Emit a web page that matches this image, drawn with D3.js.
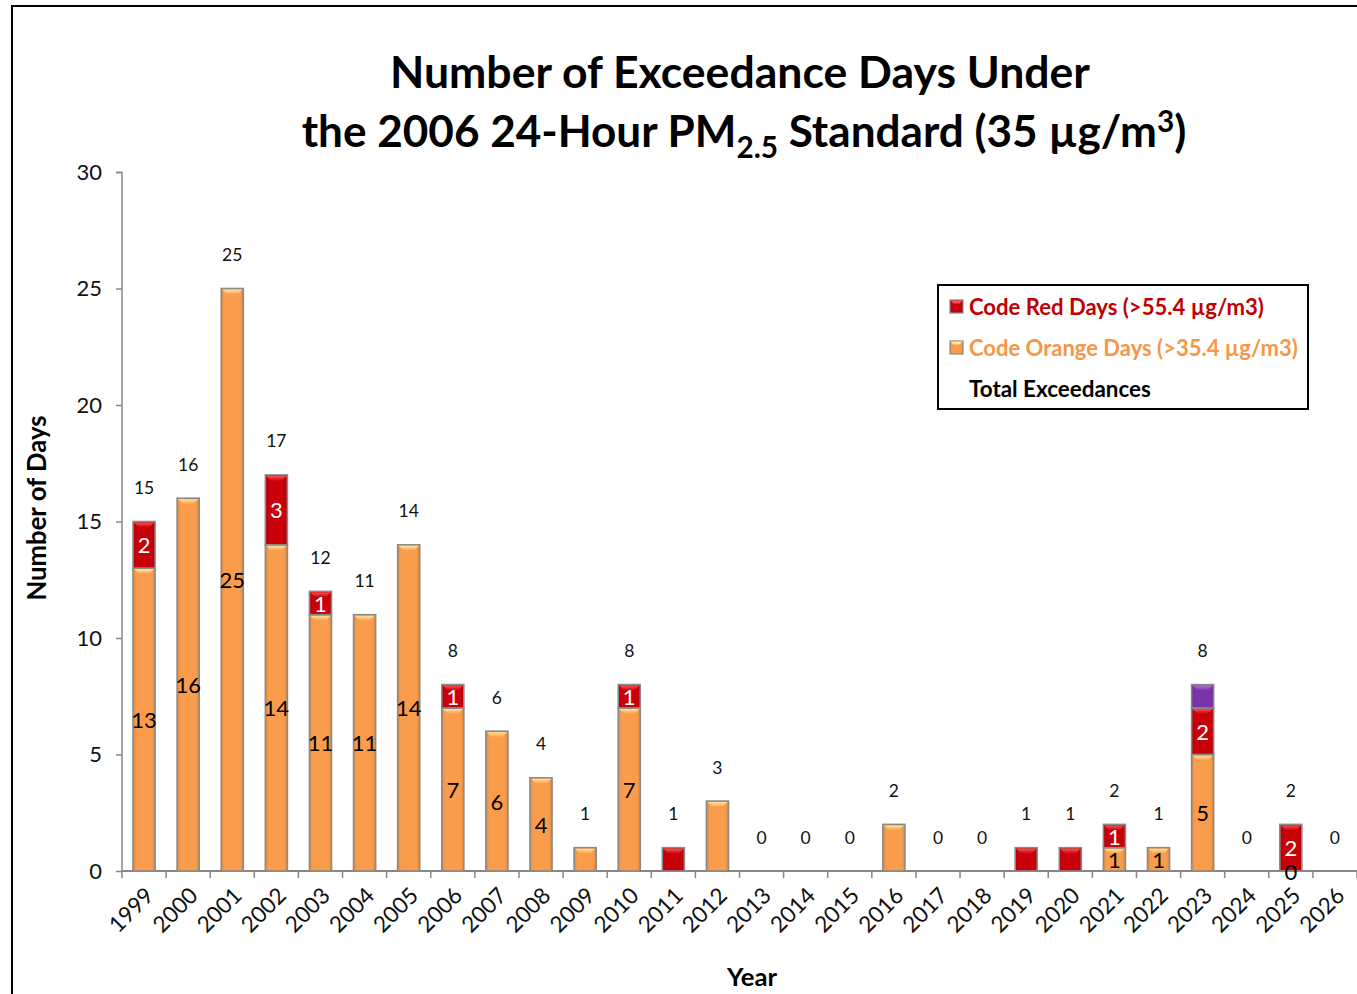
<!DOCTYPE html>
<html><head><meta charset="utf-8">
<script src="https://cdn.jsdelivr.net/npm/d3@7"></script>
<style>html,body{margin:0;padding:0;background:#fff;}svg{display:block;}</style>
</head><body>
<svg id="c" width="1357" height="994"></svg>
<script>
const years = ["1999","2000","2001","2002","2003","2004","2005","2006","2007","2008","2009","2010","2011","2012","2013","2014","2015","2016","2017","2018","2019","2020","2021","2022","2023","2024","2025","2026"];
const orangeDays = [13,16,25,14,11,11,14,7,6,4,1,7,0,3,0,0,0,2,0,0,0,0,1,1,5,0,0,0];
const redDays    = [2,0,0,3,1,0,0,1,0,0,0,1,1,0,0,0,0,0,0,0,1,1,1,0,2,0,2,0];
const purpleDays = [0,0,0,0,0,0,0,0,0,0,0,0,0,0,0,0,0,0,0,0,0,0,0,0,1,0,0,0];
const totalDays  = [15,16,25,17,12,11,14,8,6,4,1,8,1,3,0,0,0,2,0,0,1,1,2,1,8,0,2,0];
const orangeLabels = ["13","16","25","14","11","11","14","7","6","4",null,"7",null,null,null,null,null,null,null,null,null,null,"1","1","5",null,"0",null];
const redLabels = ["2",null,null,"3","1",null,null,"1",null,null,null,"1",null,null,null,null,null,null,null,null,null,null,"1",null,"2",null,"2",null];
const yTicks = [0,5,10,15,20,25,30];
const legendItems = [
  {label:"Code Red Days (>55.4 µg/m3)", key:"red", width:295},
  {label:"Code Orange Days (>35.4 µg/m3)", key:"orange", width:329},
  {label:"Total Exceedances", key:null, width:182}
];

const FONT = "Lato, 'Open Sans', sans-serif";
const colors = {
  orange:{base:"#F99D4C", light:"#FFE49A", text:"#F79646"},
  red:{base:"#C8000A", light:"#FF5050", text:"#C00000"},
  purple:{base:"#7A32A8", light:"#B070D8", text:"#7030A0"}
};

const svg = d3.select("#c");
svg.append("rect").attr("x",12).attr("y",6).attr("width",1400).attr("height",1100)
  .attr("fill","none").attr("stroke","#000").attr("stroke-width",2);

const x = d3.scaleBand().domain(years).range([122,1357]).paddingInner(0.5).paddingOuter(0.25);
const y = d3.scaleLinear().domain([0,30]).range([871,172]);

const defs = svg.append("defs");
Object.entries(colors).forEach(([k,c])=>{
  const g = defs.append("linearGradient").attr("id","g_"+k).attr("x1","0").attr("x2","1").attr("y1","0").attr("y2","0");
  g.append("stop").attr("offset","0").attr("stop-color",d3.color(c.base).darker(0.35));
  g.append("stop").attr("offset","0.15").attr("stop-color",c.base);
  g.append("stop").attr("offset","0.85").attr("stop-color",c.base);
  g.append("stop").attr("offset","1").attr("stop-color",d3.color(c.base).darker(0.35));
  const t = defs.append("linearGradient").attr("id","t_"+k).attr("x1","0").attr("x2","0").attr("y1","0").attr("y2","1");
  t.append("stop").attr("offset","0").attr("stop-color",c.light);
  t.append("stop").attr("offset","1").attr("stop-color",c.base);
});

function fitText(sel, target, base){
  const w = sel.node().getComputedTextLength();
  const f = target/w;
  sel.attr("font-size", base*f);
  sel.selectAll("tspan").each(function(){
    const s = d3.select(this);
    if (s.attr("font-size")) s.attr("font-size", +s.attr("font-size")*f);
    if (s.attr("dy")) s.attr("dy", +s.attr("dy")*f);
  });
}

// y axis
const yAxis = d3.axisLeft(y).tickValues(yTicks).tickSize(6).tickPadding(14);
const ya = svg.append("g").attr("transform","translate(122,0)").call(yAxis);
ya.select(".domain").attr("stroke","#868686").attr("stroke-width",1.5).attr("d","M-6,172.5H0V871");
ya.selectAll(".tick line").attr("stroke","#868686").attr("stroke-width",1.5);
ya.selectAll(".tick text").attr("font-family",FONT).attr("font-size",22).attr("fill","#111");

// x axis
const step = x.step();
svg.append("line").attr("x1",122).attr("x2",1357).attr("y1",871).attr("y2",871).attr("stroke","#868686").attr("stroke-width",2);
svg.append("g").selectAll("line").data(d3.range(years.length+1)).join("line")
  .attr("x1",i=>122+i*step).attr("x2",i=>122+i*step).attr("y1",871).attr("y2",878)
  .attr("stroke","#868686").attr("stroke-width",1.5);
svg.append("g").selectAll("text").data(years).join("text")
  .attr("transform",d=>`translate(${x(d)+x.bandwidth()/2+7},${893}) rotate(-45)`)
  .attr("text-anchor","end").attr("dominant-baseline","middle")
  .attr("font-family",FONT).attr("font-size",22.5).attr("fill","#111").text(d=>d);

// stacked bars
const table = years.map((yr,i)=>({year:yr, orange:orangeDays[i], red:redDays[i], purple:purpleDays[i]}));
const stack = d3.stack().keys(["orange","red","purple"])(table);
const bw = x.bandwidth();
stack.forEach(layer=>{
  const k = layer.key;
  const g = svg.append("g");
  layer.forEach((s,i)=>{
    const v = s[1]-s[0];
    if (v<=0) return;
    const x0 = x(years[i]), y0 = y(s[1]), h = y(s[0])-y(s[1]);
    g.append("rect").attr("x",x0).attr("y",y0).attr("width",bw).attr("height",h)
      .attr("fill",`url(#g_${k})`).attr("stroke","#8a8a8a").attr("stroke-width",1.6);
    const b = 5;
    g.append("path").attr("d",`M${x0+1},${y0+1}H${x0+bw-1}L${x0+bw-1-b},${y0+1+b}H${x0+1+b}Z`)
      .attr("fill",`url(#t_${k})`);
  });
});

// inside labels
const segLabels = [];
years.forEach((yr,i)=>{
  if (orangeLabels[i]!==null) segLabels.push({x:x(yr)+bw/2, y:(y(0)+y(orangeDays[i]))/2, t:orangeLabels[i], c:"#000"});
  if (redLabels[i]!==null) segLabels.push({x:x(yr)+bw/2, y:(y(orangeDays[i])+y(orangeDays[i]+redDays[i]))/2, t:redLabels[i], c:"#fff"});
});
svg.append("g").selectAll("text").data(segLabels).join("text")
  .attr("x",d=>d.x).attr("y",d=>d.y).attr("text-anchor","middle").attr("dominant-baseline","central")
  .attr("font-family",FONT).attr("font-size",22).attr("fill",d=>d.c).text(d=>d.t);

// totals
svg.append("g").selectAll("text").data(years).join("text")
  .attr("x",d=>x(d)+bw/2).attr("y",(d,i)=>y(totalDays[i])-34)
  .attr("text-anchor","middle").attr("dominant-baseline","central")
  .attr("font-family",FONT).attr("font-size",17.5).attr("fill","#111").text((d,i)=>totalDays[i]);

// title
const t1 = svg.append("text").attr("x",740).attr("y",88).attr("text-anchor","middle")
  .attr("font-family",FONT).attr("font-weight","bold").attr("font-size",40).attr("fill","#000")
  .text("Number of Exceedance Days Under");
const t2 = svg.append("text").attr("x",744).attr("y",147).attr("text-anchor","middle")
  .attr("font-family",FONT).attr("font-weight","bold").attr("font-size",40).attr("fill","#000");
t2.append("tspan").text("the 2006 24-Hour PM");
t2.append("tspan").attr("font-size",27).attr("dy",10).text("2.5");
t2.append("tspan").attr("dy",-10).text(" Standard (35 µg/m");
t2.append("tspan").attr("font-size",27).attr("dy",-14).text("3");
t2.append("tspan").attr("dy",14).text(")");
fitText(t1, 700, 40);
fitText(t2, 885, 40);

// axis titles
const yt = svg.append("text").attr("transform","translate(46,508) rotate(-90)").attr("text-anchor","middle")
  .attr("font-family",FONT).attr("font-weight","bold").attr("font-size",22).attr("fill","#000").text("Number of Days");
fitText(yt, 185, 22);
const xt = svg.append("text").attr("x",752).attr("y",986).attr("text-anchor","middle")
  .attr("font-family",FONT).attr("font-weight","bold").attr("font-size",22).attr("fill","#000").text("Year");
fitText(xt, 50, 22);

// legend
const lg = svg.append("g");
lg.append("rect").attr("x",938).attr("y",285).attr("width",370).attr("height",124)
  .attr("fill","#fff").attr("stroke","#000").attr("stroke-width",2);
legendItems.forEach((it,i)=>{
  const cy = 306 + i*41;
  if (it.key){
    lg.append("rect").attr("x",950).attr("y",cy-6).attr("width",13).attr("height",13)
      .attr("fill",`url(#g_${it.key})`).attr("stroke","#8a8a8a").attr("stroke-width",1.2);
    lg.append("path").attr("d",`M950.5,${cy-5.5}H962.5L959.5,${cy-2.5}H953.5Z`).attr("fill",colors[it.key].light);
  }
  const tx = lg.append("text").attr("x",969).attr("y",cy).attr("dominant-baseline","central")
    .attr("font-family",FONT).attr("font-weight","bold").attr("font-size",20)
    .attr("fill",it.key?colors[it.key].text:"#000").text(it.label);
  fitText(tx, it.width, 20);
});
</script>
</body></html>
